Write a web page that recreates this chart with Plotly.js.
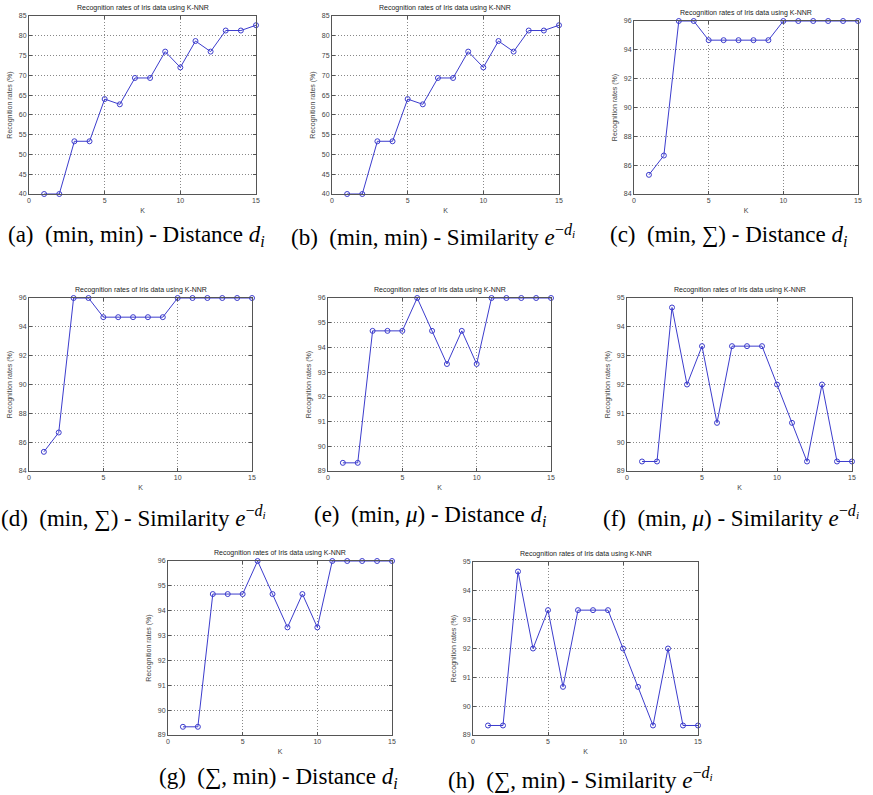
<!DOCTYPE html>
<html>
<head>
<meta charset="utf-8">
<script src="https://cdn.plot.ly/plotly-3.0.1.min.js"></script>
<style>html,body{margin:0;padding:0;background:#fff;}#chart{width:873px;height:795px;}</style>
</head>
<body>
<div id="chart"></div>
<script>
// ---- data ----
const kValues = [1,2,3,4,5,6,7,8,9,10,11,12,13,14,15];
const ratesMinMinDist = [40, 40, 53.33, 53.33, 64, 62.67, 69.33, 69.33, 76, 72, 78.67, 76, 81.33, 81.33, 82.67];
const ratesMinMinSim  = [40, 40, 53.33, 53.33, 64, 62.67, 69.33, 69.33, 76, 72, 78.67, 76, 81.33, 81.33, 82.67];
const ratesMinSumDist = [85.33, 86.67, 96, 96, 94.67, 94.67, 94.67, 94.67, 94.67, 96, 96, 96, 96, 96, 96];
const ratesMinSumSim  = [85.33, 86.67, 96, 96, 94.67, 94.67, 94.67, 94.67, 94.67, 96, 96, 96, 96, 96, 96];
const ratesMinMuDist  = [89.33, 89.33, 94.67, 94.67, 94.67, 96, 94.67, 93.33, 94.67, 93.33, 96, 96, 96, 96, 96];
const ratesMinMuSim   = [89.33, 89.33, 94.67, 92, 93.33, 90.67, 93.33, 93.33, 93.33, 92, 90.67, 89.33, 92, 89.33, 89.33];
const ratesSumMinDist = [89.33, 89.33, 94.67, 94.67, 94.67, 96, 94.67, 93.33, 94.67, 93.33, 96, 96, 96, 96, 96];
const ratesSumMinSim  = [89.33, 89.33, 94.67, 92, 93.33, 90.67, 93.33, 93.33, 93.33, 92, 90.67, 89.33, 92, 89.33, 89.33];

const plotTitle = "Recognition rates of Iris data using K-NNR";
const yTitle = "Recognition rates (%)";
const xTitle = "K";
const xTicks = [0, 5, 10, 15];

const SIM = "Similarity <i>e</i><sup>\u2212<i>d</i><sub><i>i</i></sub></sup>";
const DIST = "Distance <i>d</i><sub><i>i</i></sub>";
const captions = [
  "(a)\u2002(min, min) - " + DIST,
  "(b)\u2002(min, min) - " + SIM,
  "(c)\u2002(min, \u2211) - " + DIST,
  "(d)\u2002(min, \u2211) - " + SIM,
  "(e)\u2002(min, <i>\u03bc</i>) - " + DIST,
  "(f)\u2002(min, <i>\u03bc</i>) - " + SIM,
  "(g)\u2002(\u2211, min) - " + DIST,
  "(h)\u2002(\u2211, min) - " + SIM
];
const seriesList = [ratesMinMinDist, ratesMinMinSim, ratesMinSumDist, ratesMinSumSim,
                    ratesMinMuDist, ratesMinMuSim, ratesSumMinDist, ratesSumMinSim];
const yRanges = [[40,85],[40,85],[84,96],[84,96],[89,96],[89,95],[89,96],[89,95]];
const yDticks = [5,5,2,2,1,1,1,1];

// ---- layout geometry (pixels) ----
const W = 873, H = 795;
const boxes = [
  [29,256,16,194],[332,559,16,194],[634,858,21,194],
  [29,252,298,471],[328,551,298,471],[627,852,298,471],
  [168,392,561,735],[473,698,562,735]
];
const capPos = [[136,236],[433,236],[728,236],[133,516],[430,516],[731,516],[278,778],[580,778]];

const traces = [];
const layout = {
  width: W, height: H,
  margin: {l:0, r:0, t:0, b:0},
  paper_bgcolor: "#fff", plot_bgcolor: "#fff",
  showlegend: false,
  font: {family: "Liberation Sans, Arial, sans-serif", size: 7, color: "#333"},
  annotations: []
};

boxes.forEach((b, i) => {
  const n = i === 0 ? "" : String(i + 1);
  const xa = "x" + n, ya = "y" + n;
  traces.push({
    x: kValues, y: seriesList[i], xaxis: xa, yaxis: ya,
    type: "scatter", mode: "lines+markers", cliponaxis: false,
    line: {color: "rgb(60,60,205)", width: 1},
    marker: {symbol: "circle-open", size: 5, color: "rgb(60,60,205)", line: {width: 1}}
  });
  const axCommon = {
    showline: true, mirror: "ticks", linecolor: "#555", linewidth: 1,
    ticks: "inside", ticklen: 3, tickcolor: "#555",
    showgrid: true, gridcolor: "#888", griddash: "1px,2px", gridwidth: 1,
    zeroline: false, tickfont: {size: 7, color: "#444"}
  };
  layout["xaxis" + n] = Object.assign({}, axCommon, {
    domain: [b[0]/W, b[1]/W], anchor: ya, range: [0, 15],
    tickmode: "array", tickvals: xTicks, ticktext: xTicks.map(String),
    title: {text: xTitle, font: {size: 7, color: "#444"}, standoff: 4}
  });
  layout["yaxis" + n] = Object.assign({}, axCommon, {
    domain: [1 - b[3]/H, 1 - b[2]/H], anchor: xa, range: yRanges[i],
    tickmode: "linear", tick0: yRanges[i][0], dtick: yDticks[i],
    title: {text: yTitle, font: {size: 7, color: "#444"}, standoff: 5}
  });
  layout.annotations.push({
    xref: "paper", yref: "paper", x: (b[0] + b[1]) / 2 / W, y: 1 - (b[2] - 2) / H,
    xanchor: "center", yanchor: "bottom", showarrow: false,
    text: plotTitle, font: {size: 7, color: "#222"}
  });
  layout.annotations.push({
    xref: "paper", yref: "paper", x: capPos[i][0] / W, y: 1 - capPos[i][1] / H,
    xanchor: "center", yanchor: "middle", showarrow: false,
    text: captions[i],
    font: {family: "Liberation Serif, Times New Roman, serif", size: 23, color: "#000"}
  });
});

Plotly.newPlot("chart", traces, layout, {staticPlot: true});
</script>
</body>
</html>
